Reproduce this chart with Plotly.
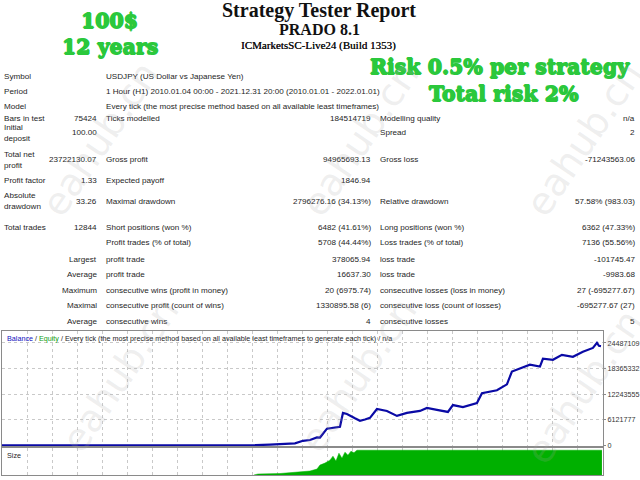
import plotly.graph_objects as go

# balance curve (trade number, account balance)
trades = [0, 2530, 5360, 5400, 5440, 5746, 6110, 6282, 6453, 6604,
          6754, 6818, 6968, 7140, 7247, 7311, 7397, 7568, 7676, 7783,
          7890, 8040, 8254, 8469, 8683, 8962, 9112, 9326, 9562, 9669,
          9884, 10184, 10291, 10613, 10827, 10934, 11106, 11320, 11535, 11599,
          11813, 12006, 12242, 12456, 12671, 12757, 12800, 12844]
balance = [100, 100, 100, -100000, 50000, 200000, 300000, 500000, 1100000, 1300000,
           1900000, 1880000, 4000000, 4300000, 4470000, 7770000, 7530000, 6500000, 5890000, 6200000,
           6590000, 8710000, 8240000, 7060000, 7770000, 8240000, 8950000, 8480000, 8000000, 9650000,
           9180000, 10120000, 12480000, 13190000, 14600000, 17660000, 18370000, 19310000, 18840000, 20720000,
           20480000, 21660000, 21190000, 22370000, 23300000, 24500000, 23800000, 23722230]

# lot size panel
size_trades = [5400, 5489, 5960, 6389, 6604, 6754, 6818, 6925, 7032, 7097,
               7161, 7225, 7290, 7354, 7418, 7483, 7547, 7611, 12864]
size_lots = [0, 2, 3, 6, 8, 12, 20, 24, 30, 38,
             28, 44, 34, 46, 40, 48, 45, 50, 50]

y_ticks = [0, 6121777, 12243555, 18365332, 24487109]
y_tick_text = ['0', '6121777', '12243555', '18365332', '24487109']

# report table: left label, left value, middle label, middle value, right label, right value
col1_label = ['Symbol', 'Period', 'Model', 'Bars in test', 'Initial<br>deposit',
              'Total net<br>profit', 'Profit factor', 'Absolute<br>drawdown', 'Total trades', '',
              '', '', '', '', '']
col1_value = ['', '', '', '75424', '100.00',
              '23722130.07', '1.33', '33.26', '12844', '',
              'Largest', 'Average', 'Maximum', 'Maximal', 'Average']
col2_label = ['USDJPY (US Dollar vs Japanese Yen)',
              '1 Hour (H1) 2010.01.04 00:00 - 2021.12.31 20:00 (2010.01.01 - 2022.01.01)',
              'Every tick (the most precise method based on all available least timeframes)',
              'Ticks modelled', '', 'Gross profit', 'Expected payoff', 'Maximal drawdown',
              'Short positions (won %)', 'Profit trades (% of total)', 'profit trade', 'profit trade',
              'consecutive wins (profit in money)', 'consecutive profit (count of wins)', 'consecutive wins']
col2_value = ['', '', '', '184514719', '', '94965693.13', '1846.94', '2796276.16 (34.13%)',
              '6482 (41.61%)', '5708 (44.44%)', '378065.94', '16637.30', '20 (6975.74)',
              '1330895.58 (6)', '4']
col3_label = ['', '', '', 'Modelling quality', 'Spread', 'Gross loss', '', 'Relative drawdown',
              'Long positions (won %)', 'Loss trades (% of total)', 'loss trade', 'loss trade',
              'consecutive losses (loss in money)', 'consecutive loss (count of losses)', 'consecutive losses']
col3_value = ['', '', '', 'n/a', '2', '-71243563.06', '', '57.58% (983.03)',
              '6362 (47.33%)', '7136 (55.56%)', '-101745.47', '-9983.68', '27 (-695277.67)',
              '-695277.67 (27)', '5']

row_y = [77, 92, 107, 119, 134, 161, 182, 203, 229, 245, 262, 277, 293, 308, 324]

W, H = 640, 480
GREEN = '#2bc83c'
TXT = dict(family='Liberation Sans', size=8.1, color='#1e1e1e')


def px(x):
    return x / W


def py(y):
    return 1 - y / H


def note(text, x, y, xanchor='left', font=TXT, **kw):
    return dict(text=text, x=px(x), y=py(y), xref='paper', yref='paper',
                xanchor=xanchor, yanchor='middle', showarrow=False, font=font, **kw)


fig = go.Figure()
fig.add_trace(go.Scatter(x=trades, y=balance, mode='lines',
                         line=dict(color='#0a0aa5', width=2.2), xaxis='x', yaxis='y'))
fig.add_trace(go.Scatter(x=size_trades, y=size_lots, mode='lines', fill='tozeroy',
                         line=dict(color='#00b000', width=0.5), fillcolor='#00b000',
                         xaxis='x2', yaxis='y2'))

notes = []
for i, yy in enumerate(row_y):
    if col1_label[i]:
        notes.append(note(col1_label[i], 2, yy, align='left'))
    if col1_value[i]:
        notes.append(note(col1_value[i], 99, yy, xanchor='right'))
    if col2_label[i]:
        notes.append(note(col2_label[i], 104, yy))
    if col2_value[i]:
        notes.append(note(col2_value[i], 373, yy, xanchor='right'))
    if col3_label[i]:
        notes.append(note(col3_label[i], 378, yy))
    if col3_value[i]:
        notes.append(note(col3_value[i], 637, yy, xanchor='right'))

title_font = dict(family='Liberation Serif', color='#111111')
notes.append(note('<b>Strategy Tester Report</b>', 319, 11, 'center', dict(title_font, size=20)))
notes.append(note('<b>PRADO 8.1</b>', 319, 30, 'center', dict(title_font, size=16)))
notes.append(note('ICMarketsSC-Live24 (Build 1353)', 318, 46, 'center',
                  dict(title_font, size=11, shadow='0.3px 0 0 #111111')))

# heavy green slab lettering, thickened with a same-colour shadow
heavy = ', '.join(f'{dx}px {dy}px 0 {GREEN}' for dx, dy in [(0.7, 0), (-0.7, 0), (0, 0.6), (0, -0.6)])
slab = dict(family='DejaVu Serif', color=GREEN, size=20.5, shadow=heavy)
notes.append(note('<b>100$</b>', 109, 21, 'center', slab))
notes.append(note('<b>12 years</b>', 110, 47, 'center', slab))
notes.append(note('<b>Risk 0.5% per strategy</b>', 500, 68, 'center', slab))
notes.append(note('<b>Total risk 2%</b>', 503, 95, 'center', slab))

notes.append(note("<span style='color:#1010c0'>Balance</span> / "
                  "<span style='color:#10a010'>Equity</span> / Every tick (the most precise method "
                  "based on all available least timeframes to generate each tick) / n/a",
                  5, 341, font=dict(TXT, size=7.2)))
notes.append(note('Size', 5, 459, font=dict(TXT, size=7.2)))

# watermarks
wm_font = dict(family='DejaVu Sans', size=38, color='rgba(170,170,170,0.2)')
for wx, wy in [(100, 140), (360, 140), (584, 140), (120, 378), (358, 378), (584, 390)]:
    notes.append(note('eahub.cn', wx, wy, 'center', wm_font, textangle=-56))

grid = dict(showgrid=True, gridcolor='#c9c9c9', griddash='3px,3px', gridwidth=1)
frame = dict(showline=True, mirror=True, linecolor='#8a8a8a', linewidth=1, zeroline=False)
x_range = [0, 12887]
x_step = x_range[1] * 25 / 601

fig.update_layout(
    width=W, height=H, margin=dict(l=0, r=0, t=0, b=0),
    paper_bgcolor='white', plot_bgcolor='white', showlegend=False,
    xaxis=dict(domain=[px(2), px(603)], range=x_range, tick0=0, dtick=x_step,
               showticklabels=False, ticks='', anchor='y', **grid, **frame),
    yaxis=dict(domain=[py(450), py(334)], range=[-200000, 27300000], side='right',
               tickvals=y_ticks, ticktext=y_tick_text, ticks='outside', ticklen=2,
               tickcolor='#8a8a8a', tickfont=dict(family='Liberation Sans', size=7.2, color='#333333'),
               anchor='x', **grid, **frame),
    xaxis2=dict(domain=[px(2), px(603)], range=x_range, tick0=0, dtick=x_step,
                showticklabels=False, ticks='', anchor='y2', **grid, **frame),
    yaxis2=dict(domain=[py(479), py(452)], range=[0, 54], showgrid=False,
                showticklabels=False, ticks='', anchor='x2', **frame),
    annotations=notes,
)

fig.write_html('out.html', config={'displayModeBar': False},
               post_script="document.body.style.margin = '0';")
